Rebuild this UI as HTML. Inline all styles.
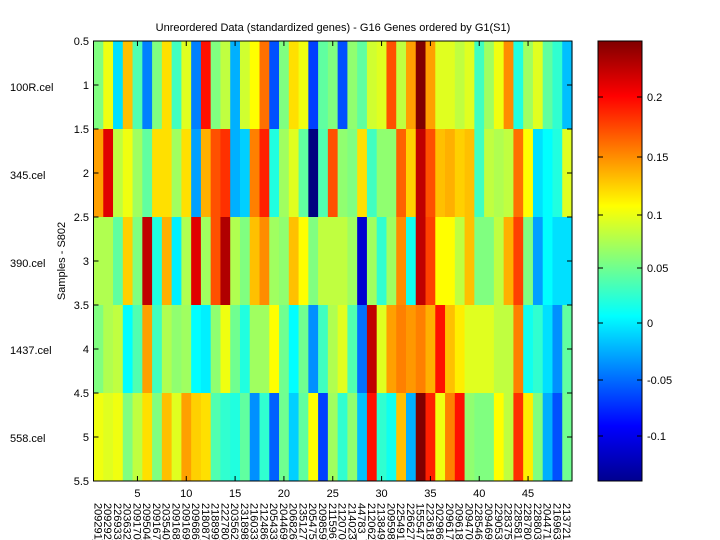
<!DOCTYPE html>
<html><head><meta charset="utf-8"><style>
body{margin:0;background:#fff;}
svg{display:block;font-family:"Liberation Sans",sans-serif;}
</style></head><body>
<svg id="s" width="720" height="540" xmlns="http://www.w3.org/2000/svg">
<defs>
<linearGradient id="jet" x1="0" y1="1" x2="0" y2="0">
<stop offset="0" stop-color="#00008f"/>
<stop offset="0.125" stop-color="#0000ff"/>
<stop offset="0.375" stop-color="#00ffff"/>
<stop offset="0.625" stop-color="#ffff00"/>
<stop offset="0.875" stop-color="#ff0000"/>
<stop offset="1" stop-color="#800000"/>
</linearGradient>
</defs>
<rect width="720" height="540" fill="#fff"/>
<g id="cells"></g>
<rect x="93.5" y="41" width="478.5" height="440" fill="none" stroke="#000" stroke-width="1"/>
<g id="ticks" stroke="#000" stroke-width="1"></g>
<g id="labels" font-size="11" fill="#000"></g>
<text x="333" y="31" font-size="11" text-anchor="middle">Unreordered Data (standardized genes) - G16 Genes ordered by G1(S1)</text>
<text transform="translate(65,261) rotate(-90)" font-size="11" text-anchor="middle">Samples - S802</text>
<text x="10" y="91" font-size="11">100R.cel</text>
<text x="10" y="179" font-size="11">345.cel</text>
<text x="10" y="267" font-size="11">390.cel</text>
<text x="10" y="354" font-size="11">1437.cel</text>
<text x="10" y="442" font-size="11">558.cel</text>
<rect x="598" y="41" width="44" height="440" fill="url(#jet)" stroke="#000" stroke-width="1"/>
<g id="cb" font-size="11"></g>
</svg>
<script>
var rows=[
"80ff80 eeff10 00e0ff ffc000 50ffb0 0080ff 80ff80 ffe000 40ffc0 e0ff20 0080ff ff1000 80ff80 c0ff40 00b0ff d0ff30 ffff00 ff7000 0050ff 80ff80 ffe000 f0ff10 0040ff 60ffa0 80ff80 0050ff 90ff70 60ffa0 d0ff30 e0ff20 ff5000 c0ff40 ffa000 800000 ffa000 e0ff20 e0ff20 c0ff40 e0ff20 40ffc0 a0ff60 f0ff10 ff8c00 20ffe0 a0ff60 e0ff20 60ffa0 30ffd0 00c0ff",
"ffa000 e00000 c0ff40 f0ff10 a0ff60 60ffa0 ffe000 ffe000 a0ff60 ffe000 00a0ff ffb000 ff5000 ff3000 00b0ff 00d0ff ff8000 ff2000 20ffe0 a0ff60 e0ff20 60ffa0 000080 50ffb0 ff5000 90ff70 80ff80 ffe000 40ffc0 90ff70 90ff70 ff6000 ffd000 c00000 ff5000 ffc000 ffb000 ffd000 ffc000 40ffc0 c0ff40 b0ff50 c0ff40 ff7000 ffff00 00e0ff 00ffff 20ffe0 e0ff20",
"b0ff50 b0ff50 60ffa0 ffd000 80ff80 c00000 20ffe0 ffb000 00f0ff b0ff50 e00000 a0ff60 ff5000 b00000 b0ff50 80ff80 ffc000 ff8c00 a0ff60 90ff70 ffc000 ffff00 80ff80 c0ff40 c0ff40 c0ff40 a0ff60 0000d0 a0ff60 30ffd0 a0ff60 ff8c00 10ffef c00000 ff4000 ffff00 ffff00 c0ff40 ffc000 80ff80 80ff80 c0ff40 ffb000 ff4000 80ff80 00a0ff 00ffff 00e0ff 00e0ff",
"80ff80 b0ff50 c0ff40 00ffff 50ffb0 ffa000 40ffc0 b0ff50 90ff70 a0ff60 00ffff 00f0ff 90ff70 f0ff10 70ff90 20ffe0 a0ff60 a0ff60 ffff00 70ff90 00ffff 70ff90 0090ff 40ffc0 b0ff50 e0ff20 50ffb0 0070ff c00000 e0ff20 ffa000 ff8000 ff9800 ff8000 ffb000 ff1000 ffc000 ffee00 e0ff20 e0ff20 e0ff20 c0ff40 c0ff40 ff8000 10ffef 30ffd0 00e0ff 0090ff 60ffa0",
"f0ff10 e0ff20 f0ff10 80ff80 c0ff40 ffe000 80ff80 ffc000 e0ff20 ffa000 ffd000 ffe000 50ffb0 30ffd0 20ffe0 60ffa0 0090ff 30ffd0 0060ff 70ff90 00d0ff 60ffa0 ffff00 0040ff a0ff60 30ffd0 90ff70 00c0ff ff1000 30ffd0 10ffef ffc000 00b0ff 800000 ff2000 f0ff10 ff8000 ff1000 90ff70 80ff80 80ff80 ffff00 c0ff40 ff3000 ffee00 80ff80 00b0ff 0050ff 70ff90"];
var genes="209291 209292 226933 203632 209170 209504 209167 203540 209168 209169 209686 218087 218899 222780 203562 231898 216033 212486 205433 204469 206826 235127 205475 209859 211596 212070 214023 44783_s 212062 213849 209598 225491 226627 1555471 223618 202986 209617 209618 209470 228546 209469 229053 228375 228581 228780 228803 204471 216963 213721".split(" ");
var NS="http://www.w3.org/2000/svg";
function el(t,a,p,txt){var e=document.createElementNS(NS,t);for(var k in a)e.setAttribute(k,a[k]);if(txt!=null)e.textContent=txt;p.appendChild(e);return e;}
var X0=93.5,W=478.5/49,Y0=41,H=88;
var cells=document.getElementById("cells");
rows.forEach(function(r,i){r.split(" ").forEach(function(c,j){
el("rect",{x:X0+j*W,y:Y0+i*H,width:W+0.6,height:H+0.5,fill:"#"+c},cells);});});
var tk=document.getElementById("ticks"),lb=document.getElementById("labels");
for(var n=5;n<=45;n+=5){var x=X0+(n-0.5)*W;
el("line",{x1:x,y1:481,x2:x,y2:476},tk);el("line",{x1:x,y1:41,x2:x,y2:46},tk);
el("text",{x:x,y:497,"text-anchor":"middle"},lb,String(n));}
for(var k=0;k<=10;k++){var y=Y0+k*44;
el("line",{x1:93.5,y1:y,x2:98.5,y2:y},tk);el("line",{x1:572,y1:y,x2:567,y2:y},tk);
var v=0.5+k*0.5;el("text",{x:89,y:y+4,"text-anchor":"end"},lb,(v%1==0?v.toFixed(0):v.toFixed(1)));}
genes.forEach(function(g,j){var x=X0+(j+0.5)*W-4;
var lab=g.indexOf("_")>=0?g+"_at":g+"_at";
el("text",{transform:"translate("+x+",503) rotate(90)","font-size":"11"},lb,lab);});
var cb=document.getElementById("cb");
[[0.2,97],[0.15,157],[0.1,215],[0.05,268],[0,323],[-0.05,380],[-0.1,436]].forEach(function(t){
el("line",{x1:598,y1:t[1],x2:603,y2:t[1],stroke:"#000"},cb);el("line",{x1:642,y1:t[1],x2:637,y2:t[1],stroke:"#000"},cb);
el("text",{x:647,y:t[1]+4},cb,String(t[0]));});
</script>
</body></html>
